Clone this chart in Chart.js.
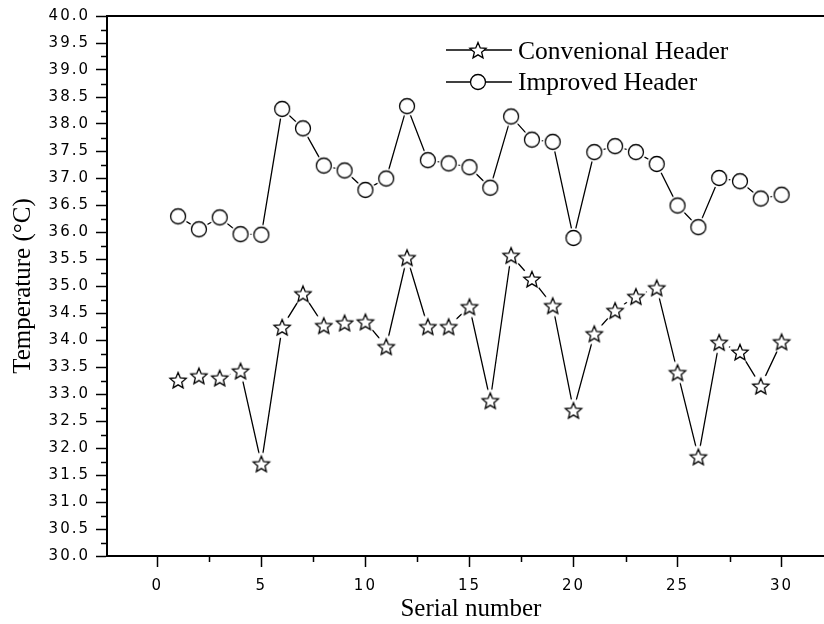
<!DOCTYPE html>
<html>
<head>
<meta charset="utf-8">
<script src="https://cdn.jsdelivr.net/npm/chart.js@4.4.1/dist/chart.umd.min.js"></script>
<style>
  html, body { margin: 0; padding: 0; background: #fff; overflow: hidden; }
  #wrap { width: 824px; height: 624px; overflow: hidden; }
</style>
</head>
<body>
<!-- canvas is a bit wider than the window: the original plot is cut off on the right -->
<div id="wrap"><canvas id="chart" width="844" height="624"></canvas></div>
<script>
// data
const serial = [1, 2, 3, 4, 5, 6, 7, 8, 9, 10, 11, 12, 13, 14, 15, 16, 17, 18, 19, 20, 21, 22, 23, 24, 25, 26, 27, 28, 29, 30];
const conventional = [33.26, 33.34, 33.30, 33.43, 31.71, 34.24, 34.86, 34.27, 34.32, 34.34, 33.88, 35.53, 34.25, 34.25, 34.62, 32.88, 35.57, 35.13, 34.64, 32.70, 34.12, 34.55, 34.81, 34.97, 33.40, 31.84, 33.96, 33.78, 33.15, 33.97];
const improved = [36.29, 36.05, 36.27, 35.96, 35.95, 38.28, 37.92, 37.23, 37.14, 36.78, 36.99, 38.33, 37.33, 37.27, 37.20, 36.82, 38.14, 37.71, 37.67, 35.89, 37.48, 37.59, 37.48, 37.26, 36.49, 36.09, 37.00, 36.94, 36.62, 36.69];
const seriesNames = ["Convenional Header", "Improved Header"];

const xTicks = [0, 5, 10, 15, 20, 25, 30];
const xMinorTicks = [2.5, 7.5, 12.5, 17.5, 22.5, 27.5];
const yTicks = [30, 30.5, 31, 31.5, 32, 32.5, 33, 33.5, 34, 34.5, 35, 35.5, 36, 36.5, 37, 37.5, 38, 38.5, 39, 39.5, 40];
const yMinorTicks = [30.25, 30.75, 31.25, 31.75, 32.25, 32.75, 33.25, 33.75, 34.25, 34.75, 35.25, 35.75, 36.25, 36.75, 37.25, 37.75, 38.25, 38.75, 39.25, 39.75];

// where x = 0 sits and how wide one unit is in the original figure
const X_ZERO_PX = 157.3;
const X_UNIT_PX = 20.81;

const serifFont = "'Liberation Serif', 'Times New Roman', serif";
const sansFont = "'DejaVu Sans', Verdana, sans-serif";

// marker images: white halo leaves the little gap round each symbol
function makeMarker(kind, r, halo) {
  const size = Math.ceil(Math.max(r + 1, halo)) * 2 + 2;
  const c = document.createElement("canvas");
  c.width = size;
  c.height = size;
  const g = c.getContext("2d");
  const cx = size / 2, cy = size / 2;
  if (halo > r) {
    g.fillStyle = "#fff";
    g.beginPath();
    g.arc(cx, cy, halo, 0, Math.PI * 2);
    g.fill();
  }
  g.beginPath();
  if (kind === "circle") {
    g.arc(cx, cy, r, 0, Math.PI * 2);
  } else {
    for (let i = 0; i < 10; i++) {
      const a = -Math.PI / 2 + (i * Math.PI) / 5;
      const rr = i % 2 ? r * 0.45 : r;
      const px = cx + rr * Math.cos(a), py = cy + 1 + rr * Math.sin(a);
      if (i === 0) g.moveTo(px, py);
      else g.lineTo(px, py);
    }
    g.closePath();
  }
  g.fillStyle = "#fff";
  g.fill();
  g.strokeStyle = "#000";
  g.lineWidth = 1.3;
  g.stroke();
  return c;
}

const starImg = makeMarker("star", 8.5, 11);
const circleImg = makeMarker("circle", 7.5, 10);
const legendStar = makeMarker("star", 8.5, 0);
const legendCircle = makeMarker("circle", 7.5, 0);

// minor ticks, top frame line, tick label spacing, legend
const extrasPlugin = {
  id: "extras",
  beforeDraw(chart) {
    chart.ctx.letterSpacing = "0px";
  },
  afterDatasetsDraw(chart) {
    const ctx = chart.ctx;
    const { x, y } = chart.scales;
    const area = chart.chartArea;
    ctx.save();
    ctx.strokeStyle = "#000";
    ctx.lineWidth = 1.5;
    ctx.beginPath();
    xMinorTicks.forEach((v) => {
      const px = Math.round(x.getPixelForValue(v)) + 0.5;
      ctx.moveTo(px, area.bottom);
      ctx.lineTo(px, area.bottom + 6);
    });
    yMinorTicks.forEach((v) => {
      const py = Math.round(y.getPixelForValue(v)) + 0.5;
      ctx.moveTo(area.left, py);
      ctx.lineTo(area.left - 6, py);
    });
    ctx.stroke();
    ctx.lineWidth = 2;
    ctx.beginPath();
    ctx.moveTo(area.left, area.top);
    ctx.lineTo(area.right, area.top);
    ctx.stroke();
    ctx.restore();
    // tick labels are drawn after this hook (ticks.z = 1)
    ctx.letterSpacing = "2px";
  },
  afterDraw(chart) {
    const ctx = chart.ctx;
    ctx.letterSpacing = "0px";
    ctx.save();
    const rows = [
      { name: seriesNames[0], img: legendStar, y: 50, base: 59 },
      { name: seriesNames[1], img: legendCircle, y: 82, base: 90 },
    ];
    rows.forEach((r) => {
      ctx.strokeStyle = "#000";
      ctx.lineWidth = 1.3;
      ctx.beginPath();
      ctx.moveTo(446, r.y);
      ctx.lineTo(512, r.y);
      ctx.stroke();
      ctx.drawImage(r.img, 478 - r.img.width / 2, r.y - r.img.height / 2);
      ctx.fillStyle = "#000";
      ctx.font = "25.5px " + serifFont;
      ctx.textBaseline = "alphabetic";
      ctx.textAlign = "left";
      ctx.fillText(r.name, 518, r.base);
    });
    ctx.restore();
  },
};

const ctx = document.getElementById("chart").getContext("2d");
const chart = new Chart(ctx, {
  type: "line",
  data: {
    datasets: [
      {
        label: seriesNames[0],
        data: serial.map((s, i) => ({ x: s, y: conventional[i] })),
        borderColor: "#000",
        borderWidth: 1.3,
        pointStyle: starImg,
        pointRadius: 8,
        tension: 0,
        fill: false,
      },
      {
        label: seriesNames[1],
        data: serial.map((s, i) => ({ x: s, y: improved[i] })),
        borderColor: "#000",
        borderWidth: 1.3,
        pointStyle: circleImg,
        pointRadius: 8,
        tension: 0,
        fill: false,
      },
    ],
  },
  options: {
    responsive: false,
    animation: false,
    events: [],
    layout: { padding: { top: 16, right: 0, bottom: 0, left: 0 } },
    plugins: {
      legend: { display: false },
      tooltip: { enabled: false },
    },
    scales: {
      x: {
        type: "linear",
        min: -2.42,
        max: 32.5,
        afterBuildTicks: (s) => {
          s.ticks = xTicks.map((v) => ({ value: v }));
        },
        afterFit: (s) => {
          s.height = 68;
          s.paddingLeft = 0;
          s.paddingRight = 0;
        },
        ticks: {
          color: "#000",
          font: { family: sansFont, size: 15 },
          padding: 10,
          z: 1,
          maxRotation: 0,
          callback: (v) => String(v),
        },
        grid: { drawOnChartArea: false, tickLength: 11, tickWidth: 1.5, tickColor: "#000" },
        border: { color: "#000", width: 2 },
        title: {
          display: true,
          text: "Serial number",
          color: "#000",
          font: { family: serifFont, size: 25 },
          padding: 0,
        },
      },
      y: {
        min: 30,
        max: 40,
        afterBuildTicks: (s) => {
          s.ticks = yTicks.map((v) => ({ value: v }));
        },
        afterFit: (s) => {
          s.width = 107;
        },
        ticks: {
          color: "#000",
          font: { family: sansFont, size: 15 },
          padding: 6,
          z: 1,
          callback: (v) => Number(v).toFixed(1),
        },
        grid: { drawOnChartArea: false, tickLength: 11, tickWidth: 1.5, tickColor: "#000" },
        border: { color: "#000", width: 2 },
        title: {
          display: true,
          text: "Temperature (°C)",
          color: "#000",
          font: { family: serifFont, size: 25 },
          padding: { top: 8, bottom: 0 },
        },
      },
    },
  },
  plugins: [extrasPlugin],
});

// set the x range so that 0 and 1 unit land where they do in the original
const area = chart.chartArea;
chart.options.scales.x.min = (area.left - X_ZERO_PX) / X_UNIT_PX;
chart.options.scales.x.max = (area.right - X_ZERO_PX) / X_UNIT_PX;
chart.update();
</script>
</body>
</html>
